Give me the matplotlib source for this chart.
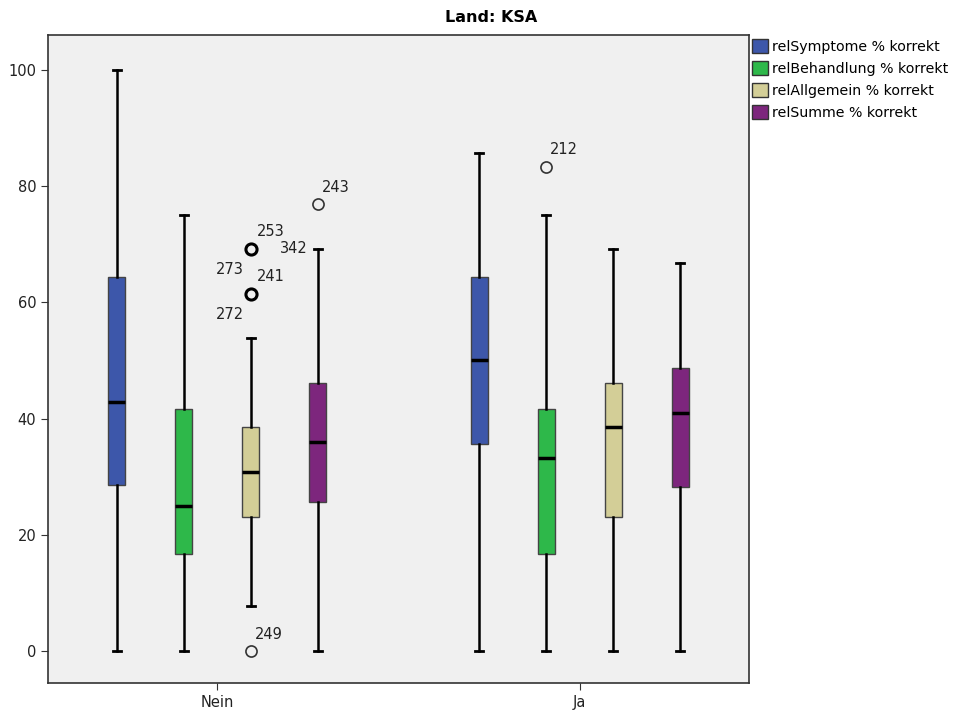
import matplotlib
matplotlib.use("Agg")
import matplotlib.pyplot as plt
from matplotlib.patches import Patch

plt.rcParams["font.family"] = ["DejaVu Sans"]

# Gruppen und Variablen
groups = ["Nein", "Ja"]
variables = ["relSymptome % korrekt", "relBehandlung % korrekt",
             "relAllgemein % korrekt", "relSumme % korrekt"]
colors = ["#3D57AA", "#2EB84A", "#D3CE97", "#7D267D"]

# Kennwerte je Gruppe: [Symptome, Behandlung, Allgemein, Summe]
whislo = {"Nein": [0.0, 0.0, 7.7, 0.0], "Ja": [0.0, 0.0, 0.0, 0.0]}
q1 = {"Nein": [28.6, 16.7, 23.1, 25.6], "Ja": [35.7, 16.7, 23.1, 28.2]}
med = {"Nein": [42.9, 25.0, 30.8, 35.9], "Ja": [50.0, 33.3, 38.5, 41.0]}
q3 = {"Nein": [64.3, 41.7, 38.5, 46.2], "Ja": [64.3, 41.7, 46.2, 48.7]}
whishi = {"Nein": [100.0, 75.0, 53.8, 69.2], "Ja": [85.7, 75.0, 69.2, 66.7]}

# Ausreißer: (Gruppe, Variable, Wert, Fallnummern)
outliers = [
    ("Nein", 2, 69.2, ["253", "273"]),
    ("Nein", 2, 61.5, ["241", "272"]),
    ("Nein", 2, 0.0, ["249"]),
    ("Nein", 3, 76.9, ["243"]),
    ("Ja", 1, 83.3, ["212"]),
]
# Fallnummer am oberen Whisker
whisker_labels = [("Nein", 3, 69.2, "342")]

spacing = 0.185
box_w = 0.047
lab_fs = 10.5


def pos(gi, vi):
    return gi + (vi - 1.5) * spacing


fig = plt.figure(figsize=(9.65, 7.15), dpi=100)
ax = fig.add_axes([48 / 965, 32 / 715, 701 / 965, 648 / 715])
ax.set_facecolor("#F0F0F0")

for gi, g in enumerate(groups):
    for vi in range(len(variables)):
        fl = [o[2] for o in outliers if o[0] == g and o[1] == vi]
        stats = [{
            "whislo": whislo[g][vi], "q1": q1[g][vi], "med": med[g][vi],
            "q3": q3[g][vi], "whishi": whishi[g][vi], "fliers": fl,
        }]
        ax.bxp(stats, positions=[pos(gi, vi)], widths=box_w, patch_artist=True,
               boxprops=dict(facecolor=colors[vi], edgecolor="#444444", linewidth=1),
               medianprops=dict(color="black", linewidth=2.5),
               whiskerprops=dict(color="black", linewidth=1.8),
               capprops=dict(color="black", linewidth=2),
               capwidths=box_w * 0.5,
               flierprops=dict(marker="o", markersize=8, markerfacecolor="none",
                               markeredgecolor="#333333", markeredgewidth=1.2),
               manage_ticks=False)

# dickere Kreise für mehrfach belegte Ausreißer
for g, vi, val, ids in outliers:
    x = pos(groups.index(g), vi)
    if len(ids) > 1:
        ax.plot(x, val, "o", ms=8, mfc="none", mec="black", mew=2.2, zorder=4)
        ax.annotate(ids[0], (x, val), xytext=(4, 9), textcoords="offset points",
                    fontsize=lab_fs, color="#222222")
        ax.annotate(ids[1], (x, val), xytext=(-25, -18), textcoords="offset points",
                    fontsize=lab_fs, color="#222222")
    else:
        ax.annotate(ids[0], (x, val), xytext=(3, 9), textcoords="offset points",
                    fontsize=lab_fs, color="#222222")

for g, vi, val, lab in whisker_labels:
    x = pos(groups.index(g), vi)
    ax.annotate(lab, (x, val), xytext=(-27, -3), textcoords="offset points",
                fontsize=lab_fs, color="#222222")

ax.set_xlim(-0.468, 1.468)
ax.set_ylim(-5.5, 106)
ax.set_xticks(range(len(groups)))
ax.set_xticklabels(groups)
ax.set_yticks([0, 20, 40, 60, 80, 100])
ax.tick_params(axis="both", labelsize=10.5, length=5, color="#333333",
               labelcolor="#222222")
for s in ax.spines.values():
    s.set_color("#333333")
    s.set_linewidth(1.2)

fig.text(491 / 965, 1 - 17 / 715, "Land: KSA", fontsize=11.5, fontweight="bold",
         ha="center", va="center")

handles = [Patch(facecolor=c, edgecolor="#333333", label=v)
           for c, v in zip(colors, variables)]
fig.legend(handles=handles, loc="upper left", bbox_to_anchor=(752 / 965, 1 - 39 / 715),
           frameon=False, fontsize=10.2, handlelength=1.1, handleheight=1.15,
           handletextpad=0.3, labelspacing=0.5, borderaxespad=0, borderpad=0)

fig.savefig("out.png", dpi=100)
